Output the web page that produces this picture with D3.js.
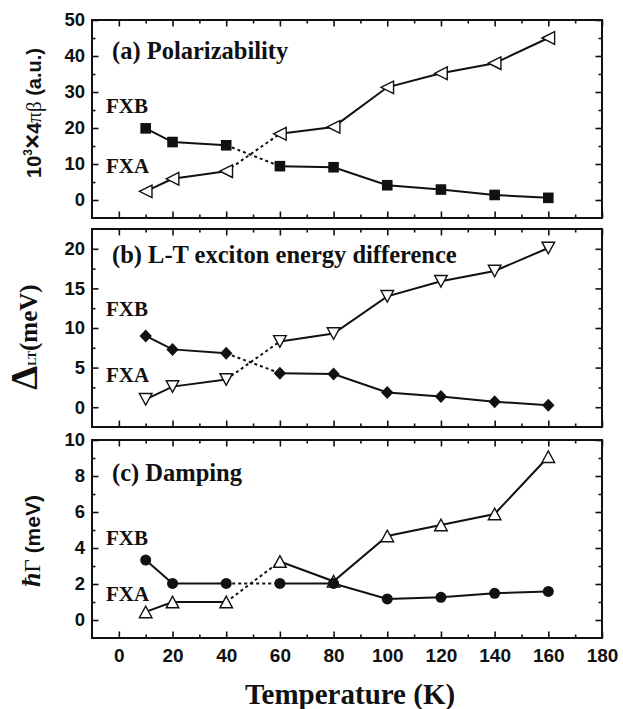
<!DOCTYPE html>
<html><head><meta charset="utf-8">
<script src="https://cdn.jsdelivr.net/npm/d3@7"></script>
<style>body{margin:0;background:#fff}svg{display:block}</style>
</head><body>
<script>
// ---- data ----
const temps = [10, 20, 40, 60, 80, 100, 120, 140, 160];
const polFXB = [19.9, 16.1, 15.2, 9.4, 9.1, 4.1, 2.9, 1.4, 0.6];
const polFXA = [2.4, 5.9, 8.0, 18.4, 20.3, 31.3, 35.2, 38.0, 45.0];
const ltFXB = [9.0, 7.3, 6.8, 4.3, 4.2, 1.85, 1.35, 0.7, 0.25];
const ltFXA = [1.0, 2.6, 3.5, 8.3, 9.3, 14.0, 15.9, 17.2, 20.1];
const dampFXB = [3.33, 2.03, 2.03, 2.03, 2.03, 1.17, 1.26, 1.48, 1.59];
const dampFXA = [0.45, 1.0, 1.0, 3.25, 2.15, 4.67, 5.28, 5.89, 9.07];
const xTicks = [0, 20, 40, 60, 80, 100, 120, 140, 160, 180];
const xMinor = [10, 30, 50, 70, 90, 110, 130, 150, 170];
const panelTitles = ["(a) Polarizability", "(b) L-T exciton energy difference", "(c) Damping"];
const seriesNames = ["FXB", "FXA"];
const yTicksA = [0, 10, 20, 30, 40, 50], yMinorA = [5, 15, 25, 35, 45];
const yTicksB = [0, 5, 10, 15, 20], yMinorB = [2.5, 7.5, 12.5, 17.5];
const yTicksC = [0, 2, 4, 6, 8, 10], yMinorC = [1, 3, 5, 7, 9];

// ---- layout ----
const W = 623, H = 709;
const svg = d3.select("body").append("svg").attr("width", W).attr("height", H);
const x = d3.scaleLinear().domain([-10, 180]).range([92, 602]);
const SANS = '"Liberation Sans"', SERIF = '"Liberation Serif"';
const font = (sel, fam, size, weight = "bold", st = "normal") =>
  sel.style("font-family", fam).style("font-size", size + "px").style("font-weight", weight).style("font-style", st).attr("fill", "#111");

const panels = [
  {dom: [-5, 50], top: 20, bot: 218, maj: yTicksA, min: yMinorA, b: polFXB, a: polFXA,
   bm: "square", am: "left", title: panelTitles[0], ty: 59, fxb: 113, fxa: 173},
  {dom: [-2.5, 22.5], top: 229, bot: 427, maj: yTicksB, min: yMinorB, b: ltFXB, a: ltFXA,
   bm: "diamond", am: "down", title: panelTitles[1], ty: 263, fxb: 316, fxa: 382},
  {dom: [-1, 10], top: 440, bot: 638, maj: yTicksC, min: yMinorC, b: dampFXB, a: dampFXA,
   bm: "circle", am: "up", title: panelTitles[2], ty: 481, fxb: 545, fxa: 601}
];

function marker(g, type, cx, cy) {
  if (type === "square") {
    g.append("rect").attr("x", cx - 5.3).attr("y", cy - 5.3).attr("width", 10.6).attr("height", 10.6).attr("fill", "#111");
  } else if (type === "diamond") {
    g.append("path").attr("d", `M${cx},${cy-6.5}L${cx+6.2},${cy}L${cx},${cy+6.5}L${cx-6.2},${cy}Z`).attr("fill", "#111");
  } else if (type === "circle") {
    g.append("circle").attr("cx", cx).attr("cy", cy).attr("r", 5.5).attr("fill", "#111");
  } else {
    const s = 6.3, h = 5.8;
    let d;
    if (type === "left") d = `M${cx-s},${cy}L${cx+s},${cy-s}L${cx+s},${cy+s}Z`;
    else if (type === "down") d = `M${cx-s},${cy-h}L${cx+s},${cy-h}L${cx},${cy+h}Z`;
    else d = `M${cx-s},${cy+h}L${cx+s},${cy+h}L${cx},${cy-h}Z`;
    g.append("path").attr("d", d).attr("fill", "#fff").attr("stroke", "#111").attr("stroke-width", 1.4);
  }
}

panels.forEach((p, i) => {
  const y = d3.scaleLinear().domain(p.dom).range([p.bot, p.top]);
  const g = svg.append("g");
  const styleAxis = sel => { sel.select(".domain").remove(); sel.selectAll("line").attr("stroke", "#111").attr("stroke-width", 1.6); return sel; };

  const bx = styleAxis(g.append("g").attr("transform", `translate(0,${p.bot})`)
    .call(d3.axisBottom(x).tickValues(xTicks).tickSizeInner(-6.5).tickSizeOuter(0).tickPadding(11)
      .tickFormat(i === 2 ? d3.format("d") : () => "")));
  font(bx.selectAll("text"), SANS, 19);
  styleAxis(g.append("g").attr("transform", `translate(0,${p.bot})`)
    .call(d3.axisBottom(x).tickValues(xMinor).tickSizeInner(-3.5).tickSizeOuter(0).tickFormat(() => "")));
  styleAxis(g.append("g").attr("transform", `translate(0,${p.top})`)
    .call(d3.axisTop(x).tickValues(xTicks).tickSizeInner(-6.5).tickSizeOuter(0).tickFormat(() => "")));
  styleAxis(g.append("g").attr("transform", `translate(0,${p.top})`)
    .call(d3.axisTop(x).tickValues(xMinor).tickSizeInner(-3.5).tickSizeOuter(0).tickFormat(() => "")));

  const ly = styleAxis(g.append("g").attr("transform", `translate(92,0)`)
    .call(d3.axisLeft(y).tickValues(p.maj).tickSizeInner(-6.5).tickSizeOuter(0).tickPadding(7).tickFormat(d3.format("d"))));
  font(ly.selectAll("text"), SANS, 18.5);
  styleAxis(g.append("g").attr("transform", `translate(92,0)`)
    .call(d3.axisLeft(y).tickValues(p.min).tickSizeInner(-3.5).tickSizeOuter(0).tickFormat(() => "")));
  styleAxis(g.append("g").attr("transform", `translate(602,0)`)
    .call(d3.axisRight(y).tickValues(p.maj).tickSizeInner(-6.5).tickSizeOuter(0).tickFormat(() => "")));
  styleAxis(g.append("g").attr("transform", `translate(602,0)`)
    .call(d3.axisRight(y).tickValues(p.min).tickSizeInner(-3.5).tickSizeOuter(0).tickFormat(() => "")));

  g.append("rect").attr("x", x.range()[0]).attr("y", p.top)
    .attr("width", x.range()[1] - x.range()[0]).attr("height", p.bot - p.top)
    .attr("fill", "none").attr("stroke", "#111").attr("stroke-width", 2);

  [p.b, p.a].forEach(vals => {
    const pts = temps.map((t, k) => [x(t), y(vals[k])]);
    const line = d3.line();
    g.append("path").attr("d", line(pts.slice(0, 3))).attr("fill", "none").attr("stroke", "#111").attr("stroke-width", 2);
    g.append("path").attr("d", line(pts.slice(2, 4))).attr("fill", "none").attr("stroke", "#111").attr("stroke-width", 2).attr("stroke-dasharray", "3,3");
    g.append("path").attr("d", line(pts.slice(3))).attr("fill", "none").attr("stroke", "#111").attr("stroke-width", 2);
  });
  temps.forEach((t, k) => marker(g, p.am, x(t), y(p.a[k])));
  temps.forEach((t, k) => marker(g, p.bm, x(t), y(p.b[k])));

  font(g.append("text").attr("x", 112).attr("y", p.ty).text(p.title), SERIF, 24.5);
  font(g.append("text").attr("x", 106).attr("y", p.fxb).text(seriesNames[0]), SERIF, 21);
  font(g.append("text").attr("x", 106).attr("y", p.fxa).text(seriesNames[1]), SERIF, 21);
});

// y-axis labels
const la = svg.append("text").attr("transform", "translate(41,113) rotate(-90)").attr("text-anchor", "middle").attr("fill", "#111");
font(la.append("tspan").text("10"), SANS, 20);
font(la.append("tspan").text("3").attr("dy", -9), SANS, 12);
font(la.append("tspan").text("×").attr("dy", 9), SANS, 26);
font(la.append("tspan").text("4"), SANS, 20);
font(la.append("tspan").text("πβ"), SERIF, 21, "normal");
font(la.append("tspan").text(" (a.u.)"), SANS, 20);

const lb = svg.append("text").attr("transform", "translate(37,337) rotate(-90)").attr("text-anchor", "middle").attr("fill", "#111");
font(lb.append("tspan").text("Δ"), SERIF, 38);
font(lb.append("tspan").text("LT").attr("dy", -1), SERIF, 12);
font(lb.append("tspan").text("(meV)").attr("dy", 1), SERIF, 25);

const lc = svg.append("text").attr("transform", "translate(40,541) rotate(-90)").attr("text-anchor", "middle").attr("fill", "#111");
font(lc.append("tspan").text("ħ"), SERIF, 26, "bold", "italic");
font(lc.append("tspan").text("Γ"), SERIF, 23, "normal");
font(lc.append("tspan").text(" (meV)"), SANS, 21);

font(svg.append("text").attr("x", 350).attr("y", 704).attr("text-anchor", "middle").text("Temperature (K)"), SERIF, 29);
</script>
</body></html>
